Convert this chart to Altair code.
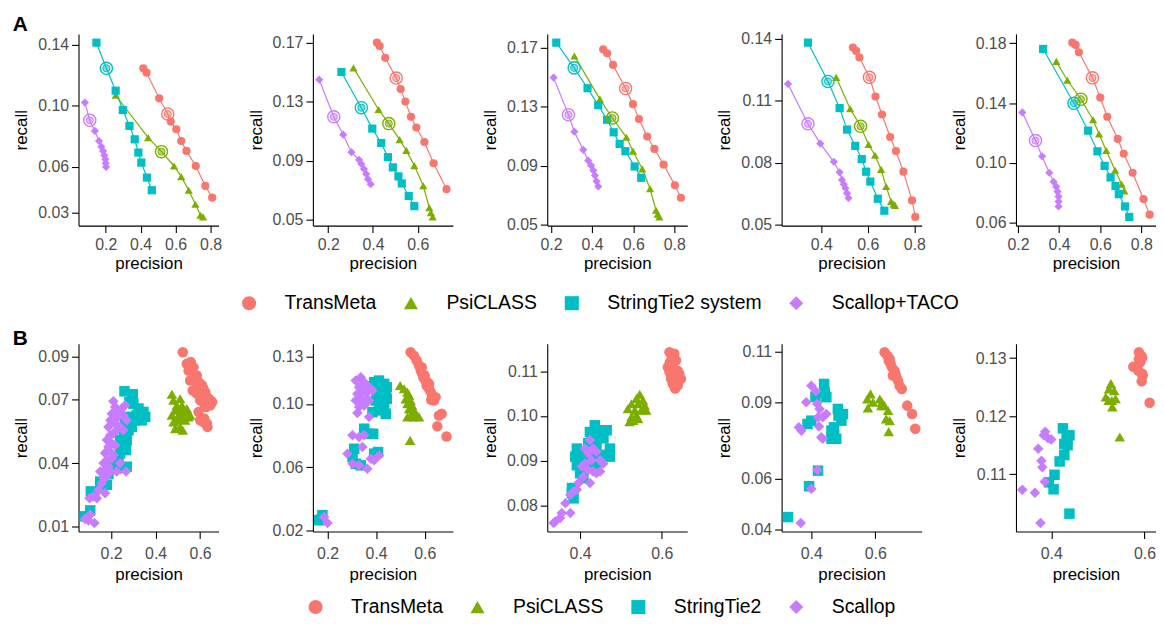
import altair as alt
import pandas as pd

FONT = "Liberation Sans"
COLORS = ["#F8766D", "#7CAE00", "#00BFC4", "#C77CFF"]
SHAPES = ["circle", "triangle-up", "square", "diamond"]
METHODS_A = ["TransMeta", "PsiCLASS", "StringTie2 system", "Scallop+TACO"]
METHODS_B = ["TransMeta", "PsiCLASS", "StringTie2", "Scallop"]
HIGHLIGHT_A = [3, 2, 1, 1]  # index of the circled point of each method

A_XTICKS = [[0.2, 0.4, 0.6, 0.8], [0.2, 0.4, 0.6], [0.2, 0.4, 0.6, 0.8], [0.4, 0.6, 0.8], [0.2, 0.4, 0.6, 0.8]]
A_YTICKS = [[0.03, 0.06, 0.10, 0.14], [0.05, 0.09, 0.13, 0.17], [0.05, 0.09, 0.13, 0.17],
            [0.05, 0.08, 0.11, 0.14], [0.06, 0.10, 0.14, 0.18]]
B_XTICKS = [[0.2, 0.4, 0.6], [0.2, 0.4, 0.6], [0.4, 0.6], [0.4, 0.6], [0.4, 0.6]]
B_YTICKS = [[0.01, 0.04, 0.07, 0.09], [0.02, 0.06, 0.10, 0.13], [0.08, 0.09, 0.10, 0.11],
            [0.04, 0.06, 0.09, 0.11], [0.11, 0.12, 0.13]]

# ---------------- Row A : precision / recall curves (5 panels) ----------------
A_TRANSMETA_PREC = [
    [0.415, 0.434, 0.506, 0.555, 0.572, 0.604, 0.632, 0.662, 0.715, 0.770, 0.809],
    [0.418, 0.430, 0.455, 0.504, 0.524, 0.545, 0.570, 0.594, 0.630, 0.671, 0.729],
    [0.454, 0.473, 0.502, 0.563, 0.599, 0.628, 0.668, 0.703, 0.748, 0.803, 0.832],
    [0.536, 0.550, 0.564, 0.607, 0.633, 0.661, 0.696, 0.721, 0.753, 0.790, 0.804],
    [0.464, 0.480, 0.496, 0.562, 0.600, 0.634, 0.685, 0.714, 0.757, 0.810, 0.840],
]
A_TRANSMETA_REC = [
    [0.1247, 0.1218, 0.1050, 0.0947, 0.0897, 0.0847, 0.0770, 0.0705, 0.0606, 0.0475, 0.0398],
    [0.1700, 0.1677, 0.1597, 0.1460, 0.1385, 0.1300, 0.1197, 0.1124, 0.1026, 0.0882, 0.0706],
    [0.1689, 0.1662, 0.1583, 0.1423, 0.1317, 0.1216, 0.1097, 0.1013, 0.0907, 0.0766, 0.0682],
    [0.1357, 0.1341, 0.1309, 0.1213, 0.1120, 0.1033, 0.0924, 0.0856, 0.0756, 0.0617, 0.0537],
    [0.1804, 0.1789, 0.1740, 0.1569, 0.1437, 0.1309, 0.1161, 0.1062, 0.0935, 0.0759, 0.0655],
]
A_PSICLASS_PREC = [
    [0.257, 0.443, 0.519, 0.591, 0.632, 0.675, 0.713, 0.742, 0.757],
    [0.313, 0.425, 0.471, 0.519, 0.549, 0.585, 0.625, 0.652, 0.659, 0.667],
    [0.314, 0.438, 0.499, 0.567, 0.599, 0.644, 0.682, 0.711, 0.719, 0.727],
    [0.464, 0.524, 0.569, 0.603, 0.631, 0.657, 0.679, 0.700, 0.711, 0.717],
    [0.386, 0.440, 0.506, 0.565, 0.594, 0.629, 0.672, 0.704, 0.717],
]
A_PSICLASS_REC = [
    [0.1070, 0.0792, 0.0700, 0.0606, 0.0536, 0.0447, 0.0355, 0.0283, 0.0272],
    [0.1529, 0.1247, 0.1151, 0.1042, 0.0969, 0.0866, 0.0729, 0.0580, 0.0546, 0.0518],
    [0.1644, 0.1351, 0.1223, 0.1092, 0.0998, 0.0878, 0.0743, 0.0597, 0.0570, 0.0552],
    [0.1213, 0.1061, 0.0976, 0.0888, 0.0836, 0.0767, 0.0684, 0.0612, 0.0599, 0.0593],
    [0.1679, 0.1553, 0.1426, 0.1289, 0.1194, 0.1084, 0.0952, 0.0858, 0.0814],
]
A_STRINGTIE_PREC = [
    [0.147, 0.204, 0.257, 0.298, 0.336, 0.366, 0.387, 0.404, 0.436, 0.464],
    [0.259, 0.348, 0.397, 0.437, 0.467, 0.489, 0.514, 0.529, 0.560, 0.585],
    [0.226, 0.313, 0.378, 0.430, 0.473, 0.505, 0.534, 0.562, 0.607, 0.639],
    [0.343, 0.429, 0.479, 0.511, 0.546, 0.574, 0.593, 0.611, 0.643, 0.671],
    [0.322, 0.472, 0.541, 0.586, 0.621, 0.650, 0.674, 0.690, 0.720, 0.741],
]
A_STRINGTIE_REC = [
    [0.1415, 0.1247, 0.1100, 0.0973, 0.0869, 0.0781, 0.0694, 0.0628, 0.0530, 0.0447],
    [0.1501, 0.1259, 0.1117, 0.1019, 0.0923, 0.0854, 0.0793, 0.0745, 0.0660, 0.0591],
    [0.1734, 0.1563, 0.1425, 0.1310, 0.1211, 0.1126, 0.1047, 0.0998, 0.0894, 0.0817],
    [0.1381, 0.1193, 0.1064, 0.0960, 0.0881, 0.0817, 0.0756, 0.0708, 0.0625, 0.0567],
    [0.1762, 0.1399, 0.1216, 0.1078, 0.0981, 0.0904, 0.0847, 0.0792, 0.0710, 0.0640],
]
A_SCALLOP_PREC = [
    [0.081, 0.109, 0.138, 0.162, 0.175, 0.185, 0.192, 0.198, 0.200, 0.202],
    [0.160, 0.225, 0.267, 0.304, 0.338, 0.348, 0.360, 0.370, 0.378, 0.390],
    [0.213, 0.285, 0.314, 0.357, 0.381, 0.395, 0.406, 0.414, 0.422, 0.430],
    [0.257, 0.343, 0.396, 0.454, 0.479, 0.489, 0.497, 0.504, 0.511, 0.517],
    [0.221, 0.285, 0.317, 0.352, 0.373, 0.386, 0.392, 0.397, 0.397, 0.397],
]
A_SCALLOP_REC = [
    [0.1022, 0.0906, 0.0836, 0.0770, 0.0733, 0.0705, 0.0676, 0.0650, 0.0624, 0.0600],
    [0.1449, 0.1197, 0.1076, 0.0957, 0.0905, 0.0877, 0.0843, 0.0809, 0.0774, 0.0740],
    [0.1497, 0.1245, 0.1130, 0.1007, 0.0934, 0.0901, 0.0867, 0.0833, 0.0793, 0.0759],
    [0.1181, 0.0988, 0.0892, 0.0804, 0.0753, 0.0716, 0.0695, 0.0676, 0.0652, 0.0628],
    [0.1338, 0.1150, 0.1045, 0.0935, 0.0875, 0.0842, 0.0809, 0.0776, 0.0743, 0.0710],
]

# ---------------- Row B : scatter of (precision, recall) ----------------
B_TRANSMETA = [
    [(0.522, 0.092), (0.540, 0.0866), (0.558, 0.0874), (0.570, 0.085), (0.548, 0.0835), (0.585, 0.0811),
     (0.575, 0.0796), (0.593, 0.078), (0.600, 0.0772), (0.588, 0.0757), (0.608, 0.0765), (0.615, 0.0749),
     (0.597, 0.0741), (0.623, 0.0733), (0.585, 0.0726), (0.612, 0.0718), (0.630, 0.071), (0.645, 0.0695),
     (0.638, 0.0702), (0.654, 0.0687), (0.600, 0.0695), (0.567, 0.0741), (0.555, 0.0788), (0.618, 0.0679),
     (0.627, 0.0663), (0.646, 0.0671), (0.593, 0.064), (0.600, 0.0601), (0.615, 0.0593), (0.633, 0.057),
     (0.630, 0.0586), (0.618, 0.0609)],
    [(0.542, 0.1327), (0.556, 0.1306), (0.567, 0.1275), (0.577, 0.1243), (0.584, 0.1212), (0.590, 0.1191),
     (0.597, 0.1169), (0.604, 0.1148), (0.608, 0.1117), (0.618, 0.1096), (0.625, 0.1075), (0.632, 0.1054),
     (0.638, 0.1022), (0.611, 0.1138), (0.588, 0.1233), (0.600, 0.118), (0.618, 0.1127), (0.645, 0.1043),
     (0.670, 0.0938), (0.659, 0.0927), (0.652, 0.0858), (0.690, 0.0794), (0.627, 0.1026), (0.595, 0.1165)],
    [(0.619, 0.1142), (0.631, 0.1139), (0.625, 0.1131), (0.635, 0.1124), (0.615, 0.1109), (0.627, 0.1109),
     (0.639, 0.1101), (0.619, 0.1098), (0.643, 0.1094), (0.631, 0.109), (0.623, 0.1083), (0.635, 0.1079),
     (0.647, 0.1083), (0.627, 0.1072), (0.639, 0.1068), (0.633, 0.1061), (0.641, 0.1076), (0.620, 0.112)],
    [(0.629, 0.1096), (0.638, 0.1083), (0.642, 0.1063), (0.648, 0.105), (0.652, 0.1037), (0.660, 0.1024),
     (0.655, 0.1005), (0.666, 0.0998), (0.671, 0.0985), (0.663, 0.1011), (0.676, 0.0965), (0.683, 0.0952),
     (0.700, 0.0887), (0.715, 0.0854), (0.725, 0.0796), (0.645, 0.107)],
    [(0.588, 0.131), (0.593, 0.1304), (0.588, 0.1298), (0.595, 0.1301), (0.591, 0.1293), (0.576, 0.1285),
     (0.587, 0.1278), (0.595, 0.1273), (0.596, 0.127), (0.594, 0.126), (0.611, 0.1223)],
]
B_PSICLASS = [
    [(0.473, 0.0723), (0.480, 0.0695), (0.510, 0.0702), (0.495, 0.0671), (0.518, 0.0671), (0.488, 0.0648),
     (0.525, 0.0648), (0.540, 0.0656), (0.503, 0.0625), (0.473, 0.0625), (0.518, 0.0609), (0.495, 0.0601),
     (0.533, 0.0601), (0.480, 0.0593), (0.548, 0.0617), (0.510, 0.057), (0.488, 0.0562), (0.522, 0.0554),
     (0.555, 0.0625), (0.500, 0.0655), (0.530, 0.063)],
    [(0.499, 0.1117), (0.515, 0.1096), (0.529, 0.1075), (0.536, 0.1054), (0.522, 0.1032), (0.542, 0.1022),
     (0.529, 0.1001), (0.549, 0.099), (0.536, 0.0969), (0.556, 0.0959), (0.570, 0.0927), (0.542, 0.0927),
     (0.577, 0.0917), (0.529, 0.0917), (0.556, 0.0917), (0.540, 0.0769)],
    [(0.546, 0.1048), (0.538, 0.1039), (0.554, 0.1035), (0.526, 0.1027), (0.542, 0.1027), (0.558, 0.1024),
     (0.517, 0.1016), (0.534, 0.1013), (0.550, 0.1013), (0.562, 0.1013), (0.538, 0.1001), (0.526, 0.0998),
     (0.542, 0.0994), (0.521, 0.0987), (0.530, 0.099)],
    [(0.585, 0.0933), (0.575, 0.0913), (0.593, 0.09), (0.577, 0.0878), (0.614, 0.0913), (0.621, 0.09),
     (0.629, 0.0887), (0.640, 0.0868), (0.634, 0.0835), (0.645, 0.0828), (0.619, 0.0887), (0.642, 0.0785)],
    [(0.528, 0.1256), (0.524, 0.1247), (0.535, 0.1244), (0.517, 0.1233), (0.530, 0.1227), (0.538, 0.123),
     (0.531, 0.1216), (0.523, 0.1227), (0.547, 0.1164)],
]
B_STRINGTIE = [
    [(0.082, 0.015), (0.106, 0.0178), (0.109, 0.0267), (0.124, 0.0251), (0.151, 0.0313), (0.181, 0.0298),
     (0.188, 0.0349), (0.210, 0.0383), (0.225, 0.0375), (0.218, 0.043), (0.240, 0.0446), (0.248, 0.0477),
     (0.267, 0.0461), (0.270, 0.0508), (0.258, 0.0554), (0.278, 0.0554), (0.293, 0.057), (0.263, 0.0601),
     (0.285, 0.0617), (0.308, 0.0601), (0.315, 0.0625), (0.330, 0.0632), (0.345, 0.064), (0.338, 0.0601),
     (0.300, 0.0679), (0.282, 0.0687), (0.260, 0.0737), (0.297, 0.0723), (0.323, 0.0656), (0.353, 0.0617),
     (0.240, 0.0508), (0.233, 0.0414), (0.270, 0.0383)],
    [(0.392, 0.1138), (0.412, 0.1148), (0.433, 0.1127), (0.444, 0.1106), (0.399, 0.1096), (0.419, 0.1085),
     (0.440, 0.1075), (0.405, 0.1054), (0.426, 0.1043), (0.444, 0.1032), (0.399, 0.1022), (0.419, 0.1001),
     (0.433, 0.098), (0.412, 0.0959), (0.440, 0.0938), (0.385, 0.0948), (0.351, 0.0843), (0.371, 0.0811),
     (0.388, 0.0811), (0.310, 0.0716), (0.303, 0.0664), (0.316, 0.0621), (0.337, 0.0611), (0.392, 0.0685),
     (0.408, 0.0695), (0.179, 0.0295), (0.166, 0.0263), (0.173, 0.0267)],
    [(0.436, 0.0979), (0.424, 0.0964), (0.440, 0.0968), (0.457, 0.0968), (0.465, 0.0968), (0.445, 0.0953),
     (0.428, 0.0946), (0.457, 0.095), (0.420, 0.0939), (0.440, 0.0935), (0.392, 0.0927), (0.408, 0.0916),
     (0.388, 0.0909), (0.424, 0.0909), (0.449, 0.0913), (0.473, 0.0927), (0.473, 0.0909), (0.404, 0.0901),
     (0.392, 0.089), (0.416, 0.0894), (0.432, 0.0901), (0.440, 0.0887), (0.400, 0.0872), (0.408, 0.0861),
     (0.380, 0.0839), (0.380, 0.0827), (0.384, 0.0816)],
    [(0.440, 0.0972), (0.442, 0.0939), (0.447, 0.092), (0.413, 0.0922), (0.483, 0.0874), (0.485, 0.0848),
     (0.499, 0.0854), (0.494, 0.0828), (0.388, 0.0815), (0.400, 0.0828), (0.463, 0.0789), (0.471, 0.077),
     (0.478, 0.0757), (0.463, 0.0757), (0.471, 0.0802), (0.421, 0.0632), (0.393, 0.0571), (0.327, 0.045)],
    [(0.425, 0.1179), (0.433, 0.1167), (0.439, 0.1167), (0.435, 0.115), (0.428, 0.1152), (0.428, 0.1133),
     (0.418, 0.1122), (0.407, 0.1099), (0.395, 0.1086), (0.405, 0.1074), (0.439, 0.1032)],
]
B_SCALLOP = [
    [(0.083, 0.0137), (0.098, 0.0131), (0.125, 0.0119), (0.106, 0.0158), (0.103, 0.0235), (0.121, 0.0243),
     (0.136, 0.0235), (0.143, 0.0274), (0.173, 0.0259), (0.158, 0.0305), (0.166, 0.0329), (0.181, 0.0337),
     (0.151, 0.036), (0.173, 0.0368), (0.196, 0.036), (0.188, 0.0383), (0.166, 0.0399), (0.181, 0.0414),
     (0.203, 0.0422), (0.173, 0.0446), (0.196, 0.0453), (0.210, 0.0438), (0.188, 0.0477), (0.203, 0.0492),
     (0.218, 0.0484), (0.181, 0.0508), (0.196, 0.0531), (0.210, 0.0539), (0.225, 0.0554), (0.188, 0.057),
     (0.218, 0.0586), (0.240, 0.057), (0.196, 0.0601), (0.225, 0.0609), (0.255, 0.0625), (0.203, 0.0632),
     (0.233, 0.064), (0.218, 0.0663), (0.248, 0.0656), (0.210, 0.069), (0.263, 0.0671), (0.225, 0.036),
     (0.267, 0.036), (0.240, 0.0399), (0.255, 0.0554), (0.270, 0.0601), (0.178, 0.0453)],
    [(0.316, 0.1148), (0.337, 0.1169), (0.351, 0.1138), (0.330, 0.1106), (0.364, 0.1117), (0.378, 0.1096),
     (0.344, 0.1085), (0.323, 0.1064), (0.358, 0.1064), (0.337, 0.1032), (0.316, 0.1022), (0.371, 0.1022),
     (0.351, 0.099), (0.330, 0.098), (0.323, 0.0942), (0.371, 0.0917), (0.385, 0.1085), (0.303, 0.0801),
     (0.330, 0.079), (0.351, 0.0801), (0.344, 0.0727), (0.282, 0.0685), (0.303, 0.0621), (0.330, 0.0611),
     (0.364, 0.059), (0.392, 0.0643), (0.412, 0.0674), (0.378, 0.0653), (0.186, 0.0284), (0.200, 0.0246)],
    [(0.424, 0.0946), (0.412, 0.0927), (0.432, 0.0927), (0.420, 0.0916), (0.440, 0.092), (0.449, 0.0901),
     (0.428, 0.0901), (0.412, 0.0894), (0.404, 0.0887), (0.420, 0.0879), (0.432, 0.0876), (0.449, 0.0876),
     (0.440, 0.0872), (0.457, 0.0894), (0.408, 0.0864), (0.424, 0.085), (0.396, 0.085), (0.384, 0.0831),
     (0.376, 0.0824), (0.364, 0.0805), (0.351, 0.0772), (0.339, 0.0764), (0.355, 0.0783), (0.376, 0.0783),
     (0.392, 0.0835), (0.335, 0.0761)],
    [(0.400, 0.0965), (0.414, 0.0943), (0.384, 0.09), (0.418, 0.0894), (0.426, 0.0874), (0.447, 0.0854),
     (0.436, 0.0841), (0.421, 0.0841), (0.361, 0.0802), (0.369, 0.0789), (0.424, 0.0805), (0.431, 0.0763),
     (0.436, 0.0757), (0.419, 0.0635), (0.400, 0.0561), (0.367, 0.0427)],
    [(0.387, 0.1173), (0.384, 0.1167), (0.393, 0.1162), (0.400, 0.116), (0.372, 0.1144), (0.379, 0.1123),
     (0.381, 0.1112), (0.386, 0.1087), (0.338, 0.1073), (0.365, 0.1068), (0.377, 0.1016)],
]

PANEL_W = 141
A_H = 193
B_H = 189
A_SIZE = 68
B_SIZE = 112


def expand(vals):
    lo, hi = min(vals), max(vals)
    pad = 0.05 * (hi - lo)
    return [lo - pad, hi + pad]


def legend(lx, ly):
    return alt.Legend(orient="none", legendX=lx, legendY=ly, direction="horizontal", title=None,
                      labelFont=FONT, labelFontSize=19.5, labelColor="black", labelLimit=400,
                      symbolSize=200, labelOffset=26, columnPadding=25, padding=0,
                      symbolStrokeWidth=0, symbolOpacity=1)


def panel(df, methods, xt, yt, height, size, leg, curves, xlabpad, xtitlepad):
    xs = alt.Scale(domain=expand(df["precision"]), nice=False, zero=False)
    ys = alt.Scale(domain=expand(df["recall"]), nice=False, zero=False)
    x = alt.X("precision:Q", scale=xs, axis=alt.Axis(values=xt, format=".1f", title="precision",
                                                     labelPadding=xlabpad, titlePadding=xtitlepad))
    y = alt.Y("recall:Q", scale=ys, axis=alt.Axis(values=yt, format=".2f", title="recall"))
    cs = alt.Scale(domain=methods, range=COLORS)
    ss = alt.Scale(domain=methods, range=SHAPES)
    base = alt.Chart(df).encode(x=x, y=y)
    layers = []
    pts = base
    if curves:
        # curves and highlight rings take their colour straight from the "col" column (no scale, no legend)
        layers.append(base.mark_line(strokeWidth=1.2).encode(
            stroke=alt.Stroke("col:N", scale=None), detail="method:N", order="idx:Q"))
        pts = base.transform_filter("!datum.hl")
    layers.append(pts.mark_point(filled=True, opacity=1, size=size).encode(
        color=alt.Color("method:N", scale=cs, legend=leg),
        shape=alt.Shape("method:N", scale=ss, legend=leg)))
    if curves:
        hl = base.transform_filter("datum.hl")
        layers.append(hl.mark_point(shape="circle", size=150, strokeWidth=1.4, opacity=1).encode(
            stroke=alt.Stroke("col:N", scale=None)))
        layers.append(hl.mark_point(shape="circle", size=52, strokeWidth=1, opacity=1, fillOpacity=0.5).encode(
            stroke=alt.Stroke("col:N", scale=None),
            fill=alt.Fill("col:N", scale=None)))
    return alt.layer(*layers).properties(width=PANEL_W, height=height)


A_PREC = [A_TRANSMETA_PREC, A_PSICLASS_PREC, A_STRINGTIE_PREC, A_SCALLOP_PREC]
A_REC = [A_TRANSMETA_REC, A_PSICLASS_REC, A_STRINGTIE_REC, A_SCALLOP_REC]
B_ALL = [B_TRANSMETA, B_PSICLASS, B_STRINGTIE, B_SCALLOP]

panels_a = []
for i in range(5):
    rows = []
    for m, name in enumerate(METHODS_A):
        for j, (p, r) in enumerate(zip(A_PREC[m][i], A_REC[m][i])):
            rows.append({"method": name, "col": COLORS[m], "precision": p, "recall": r,
                         "idx": j, "hl": j == HIGHLIGHT_A[m]})
    panels_a.append(panel(pd.DataFrame(rows), METHODS_A, A_XTICKS[i], A_YTICKS[i], A_H, A_SIZE,
                          legend(162, 261), True, 4, 3))

panels_b = []
for i in range(5):
    rows = []
    for m, name in enumerate(METHODS_B):
        for j, (p, r) in enumerate(B_ALL[m][i]):
            rows.append({"method": name, "precision": p, "recall": r, "idx": j})
    panels_b.append(panel(pd.DataFrame(rows), METHODS_B, B_XTICKS[i], B_YTICKS[i], B_H, B_SIZE,
                          legend(229, 255), False, 7, 5))

row_a = alt.hconcat(*panels_a, spacing=95, bounds="flush",
                    title=alt.TitleParams("A", anchor="start", offset=-25, baseline="bottom",
                                          fontSize=21, fontWeight="bold", font=FONT, color="black"))
row_b = alt.hconcat(*panels_b, spacing=95, bounds="flush",
                    title=alt.TitleParams("B", anchor="start", offset=-27, baseline="bottom",
                                          fontSize=21, fontWeight="bold", font=FONT, color="black"))

chart = (
    alt.vconcat(row_a, row_b, spacing=15)
    .resolve_scale(color="independent", shape="independent")
    .resolve_legend(color="independent", shape="independent")
    .properties(padding={"left": 4, "top": 3, "right": 0, "bottom": 0}, background="white")
    .configure_view(stroke=None)
    .configure_axis(domainColor="black", domainWidth=1.1, tickColor="black", tickWidth=1.1, tickSize=7,
                    labelColor="#4D4D4D", labelFont=FONT, labelFontSize=16, titleFont=FONT,
                    titleFontSize=17, titleFontWeight="normal", titleColor="black", grid=False,
                    labelFlush=False, labelOverlap=False)
    .configure_axisY(labelPadding=3, titlePadding=7)
)

chart.save("out.html", embed_options={"renderer": "svg", "actions": False})
